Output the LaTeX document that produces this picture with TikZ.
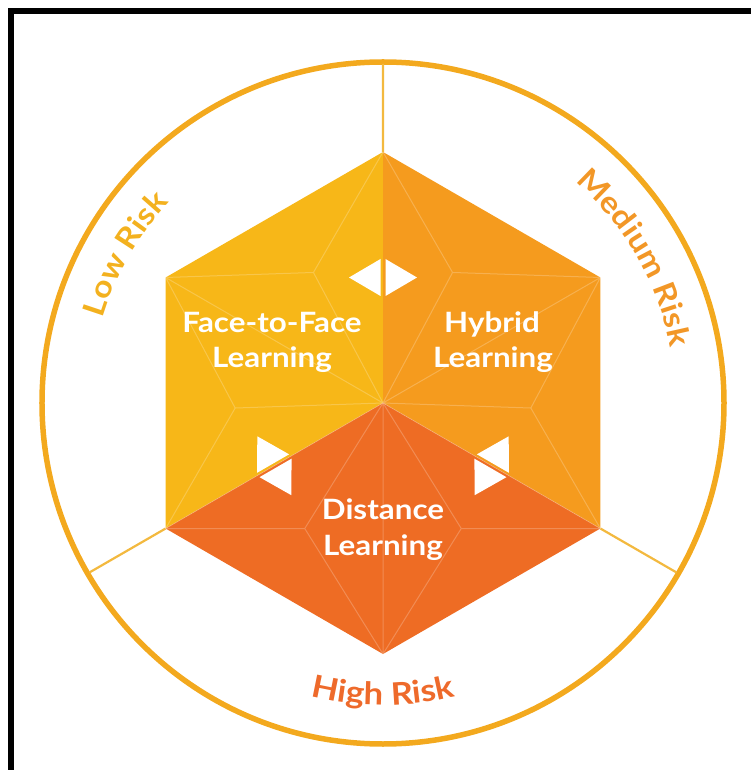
\documentclass[tikz,border=0pt]{standalone}
\usepackage{fontspec}
\newfontfamily\labfont[FakeStretch=1.12]{Lato}
\usetikzlibrary{calc,decorations.text}
\definecolor{faceC}{HTML}{F7B718}
\definecolor{hybC}{HTML}{F59B1E}
\definecolor{distC}{HTML}{EE6C24}
\definecolor{ringC}{HTML}{F3A91E}
\definecolor{divC}{HTML}{F3B93F}
\definecolor{lowC}{HTML}{F3B11F}
\definecolor{medC}{HTML}{F29727}
\definecolor{highC}{HTML}{EE6A2B}
\newcommand\gem[5]{%
  \fill[#5] (#1)--(#2)--(#3)--(#4)--cycle;
  \coordinate (ga) at ($(#1)!0.32!(#3)$);
  \coordinate (gb) at ($(#3)!0.32!(#1)$);
  \draw[facet] (#2)--(#4) (#1)--(ga) (#3)--(gb) (#2)--(ga)--(#4) (#2)--(gb)--(#4);
}
\newcommand\pointer[2]{%
  \begin{scope}[shift={(#1)}, rotate=#2]
    \fill[white] (2.5,-18.5) -- (2.5,18.5) -- (34,0) -- cycle;
  \end{scope}
}
\begin{document}
\begin{tikzpicture}[x=1pt,y=1pt,
  facet/.style={draw=white, draw opacity=0.22, line width=1pt},
  inlabel/.style={text=white, font=\labfont\bfseries\fontsize{28}{28}\selectfont, anchor=base, inner sep=0pt},
]
\useasboundingbox (-383,-367) rectangle (368,403);
% frame (top and left bars)
\fill[black] (-375,395) rectangle (368,389);
\fill[black] (-375,395) rectangle (-369,-367);

% geometry
\coordinate (O) at (0,0);
\coordinate (T) at (90:251);
\coordinate (UR) at (30:251);
\coordinate (LR) at (-30:251);
\coordinate (B) at (-90:251);
\coordinate (LL) at (210:251);
\coordinate (UL) at (150:251);

% outer ring and dividers
\draw[ringC, line width=5.5pt] (O) circle[radius=341];
\draw[divC, line width=2.2pt] (T) -- (90:339) (LL) -- (210:339) (LR) -- (330:339);

% rhombi
\gem{T}{UL}{LL}{O}{faceC}
\gem{T}{UR}{LR}{O}{hybC}
\gem{LL}{O}{LR}{B}{distC}
\draw[white, draw opacity=0.25, line width=0.8pt] (LL) -- (O) -- (LR);

% pointers
\coordinate (mTC) at ($(T)!0.5!(O)$);
\coordinate (mLL) at ($(LL)!0.5!(O)$);
\coordinate (mLR) at ($(LR)!0.5!(O)$);
\pointer{mTC}{180}
\pointer{mTC}{0}
\pointer{mLL}{120}
\pointer{mLL}{300}
\pointer{mLR}{60}
\pointer{mLR}{240}

% inner labels
\node[inlabel] (f1) at (-111,70) {Face-to-Face};
\node[inlabel] (f2) at (-111,35) {Learning};
\node[inlabel] (h1) at (109,70) {Hybrid};
\node[inlabel] (h2) at (110,35) {Learning};
\node[inlabel] (d1) at (0,-117) {Distance};
\node[inlabel] (d2) at (0,-152) {Learning};

% ring labels
\path[decorate, decoration={text along path, text align=center, text color=lowC,
  text={|\labfont\bfseries\fontsize{30}{30}\selectfont|Low Risk}}]
  (180:293) arc[start angle=180, end angle=120, radius=293];
\path[decorate, decoration={text along path, text align=center, text color=medC,
  text={|\labfont\bfseries\fontsize{30}{30}\selectfont|Medium Risk}}]
  (60:293) arc[start angle=60, end angle=0, radius=293];
\path[decorate, decoration={text along path, text align=center, text color=highC,
  text={|\labfont\bfseries\fontsize{31}{31}\selectfont|High Risk}}]
  (220:302) arc[start angle=220, end angle=320, radius=302];
\end{tikzpicture}
\end{document}
